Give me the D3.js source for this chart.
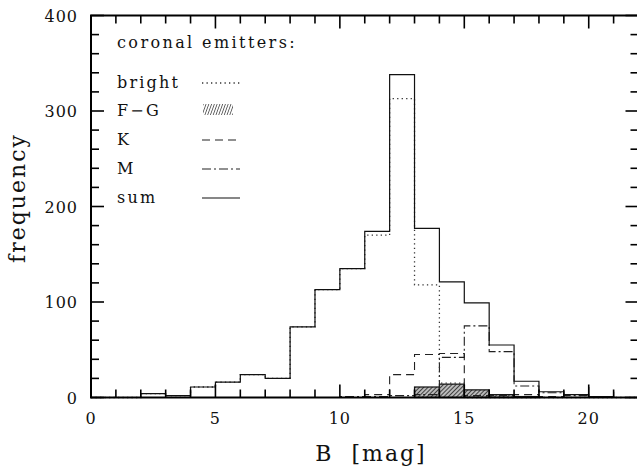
<!DOCTYPE html>
<html><head><meta charset="utf-8">
<script src="https://cdn.jsdelivr.net/npm/d3@7"></script>
<style>
html,body{margin:0;padding:0;background:#fff;}
text{font-family:"DejaVu Serif",serif;fill:#111;}
</style></head>
<body><svg id="c" width="637" height="474"></svg>
<script>
// ---- data (bins of 1 mag, left edges) ----
const binStarts = [0,1,2,3,4,5,6,7,8,9,10,11,12,13,14,15,16,17,18,19,20,21];
const sumVals    = [0,0,4,2,11,16,24,20,74,113,135,174,338,177,121,99,55,17,6,3,1,0];
const brightVals = [0,0,4,2,11,16,24,20,74,113,135,170,313,118,15,0,0,0,0,0,0,0];
const fgVals     = [0,0,0,0,0,0,0,0,0,0,0,0,0,11,14,8,3,1,0,0,0,0];
const kVals      = [0,0,0,0,0,0,0,0,0,0,0,3,24,45,46,2,2,3,1,0,0,0];
const mVals      = [0,0,0,0,0,0,0,0,0,0,1,1,2,3,42,75,48,12,5,2,0,0];
const sumEdgeSpikes = [{x:20, v:11}, {x:21, v:6}];
const xTickLabels = [0,5,10,15,20];
const yTickLabels = [0,100,200,300,400];
const legendTitle = "coronal emitters:";
const legendNames = ["bright","F\u2212G","K","M","sum"];

const svg = d3.select("#c");
const L=91, R=638.5, T=15.5, B=397.5;
const x = d3.scaleLinear().domain([0,22]).range([L,R]);
const y = d3.scaleLinear().domain([0,400]).range([B,T]);

// hatch patterns
const defs = svg.append("defs");
const pat = defs.append("pattern").attr("id","hatch").attr("patternUnits","userSpaceOnUse")
  .attr("width",3).attr("height",3).attr("patternTransform","rotate(45)");
pat.append("rect").attr("width",3).attr("height",3).attr("fill","#bbb");
pat.append("line").attr("x1",0).attr("y1",0).attr("x2",0).attr("y2",3)
  .attr("stroke","#222").attr("stroke-width",1.6);
const pat2 = defs.append("pattern").attr("id","hatchLeg").attr("patternUnits","userSpaceOnUse")
  .attr("width",2.6).attr("height",4).attr("patternTransform","rotate(20)");
pat2.append("line").attr("x1",0).attr("y1",0).attr("x2",0).attr("y2",4)
  .attr("stroke","#111").attr("stroke-width",1.2);

function stepPath(vals){
  const pts=[[x(binStarts[0]),y(0)]];
  vals.forEach((v,i)=>{pts.push([x(binStarts[i]),y(v)]);pts.push([x(binStarts[i]+1),y(v)]);});
  pts.push([x(binStarts[binStarts.length-1]+1),y(0)]);
  return d3.line()(pts);
}

// F-G hatched bars
const fgData = binStarts.map((b,i)=>({b,v:fgVals[i]})).filter(d=>d.v>0);
svg.append("g").selectAll("rect").data(fgData).join("rect")
  .attr("x",d=>x(d.b)).attr("width",d=>x(d.b+1)-x(d.b))
  .attr("y",d=>y(d.v)).attr("height",d=>y(0)-y(d.v))
  .attr("fill","url(#hatch)").attr("stroke","#111").attr("stroke-width",1.2);

const styles = {
  m:{vals:mVals,dash:"9,3,2,3",w:1.1,c:"#222"},
  k:{vals:kVals,dash:"8,5",w:1.1,c:"#222"},
  bright:{vals:brightVals,dash:"1.3,3.2",w:1.3,c:"#333"},
  sum:{vals:sumVals,dash:null,w:1.2,c:"#111"}
};
["m","k","bright","sum"].forEach(k=>{
  const s=styles[k];
  svg.append("path").attr("d",stepPath(s.vals)).attr("fill","none")
    .attr("stroke",s.c).attr("stroke-width",s.w)
    .attr("stroke-dasharray",s.dash);
});
svg.append("g").selectAll("line").data(sumEdgeSpikes).join("line")
  .attr("x1",d=>x(d.x)).attr("x2",d=>x(d.x)).attr("y1",y(0)).attr("y2",d=>y(d.v))
  .attr("stroke","#111").attr("stroke-width",1.2);

// frame
svg.append("rect").attr("x",L).attr("y",T).attr("width",R-L).attr("height",B-T)
  .attr("fill","none").attr("stroke","#000").attr("stroke-width",2);

// ticks (inward, all four sides)
const tg = svg.append("g").attr("stroke","#000").attr("stroke-width",1.6);
d3.range(0,23,1).forEach(v=>{
  const len = v%5===0?13:8;
  tg.append("line").attr("x1",x(v)).attr("x2",x(v)).attr("y1",B).attr("y2",B-len);
  tg.append("line").attr("x1",x(v)).attr("x2",x(v)).attr("y1",T).attr("y2",T+len);
});
d3.range(0,401,20).forEach(v=>{
  const len = v%100===0?13:8;
  tg.append("line").attr("y1",y(v)).attr("y2",y(v)).attr("x1",L).attr("x2",L+len);
  tg.append("line").attr("y1",y(v)).attr("y2",y(v)).attr("x1",R).attr("x2",R-len);
});

// tick labels
svg.append("g").selectAll("text").data(xTickLabels).join("text")
  .attr("x",d=>x(d)).attr("y",424).attr("text-anchor","middle")
  .attr("font-size",16).attr("letter-spacing",1).text(d=>d);
svg.append("g").selectAll("text").data(yTickLabels).join("text")
  .attr("x",78).attr("y",d=>y(d)+6).attr("text-anchor","end")
  .attr("font-size",16).attr("letter-spacing",1).text(d=>d);

// axis titles
svg.append("text").attr("x",371).attr("y",461).attr("text-anchor","middle")
  .attr("font-size",22).attr("letter-spacing",2).attr("xml:space","preserve").text("B  [mag]");
svg.append("text").attr("transform","translate(25,198) rotate(-90)").attr("text-anchor","middle")
  .attr("font-size",22).attr("letter-spacing",2).text("frequency");

// legend
const lg = svg.append("g");
lg.append("text").attr("x",117).attr("y",48).attr("font-size",16).attr("letter-spacing",2.4)
  .text(legendTitle);
const rows=[83,111,140,169,198];
legendNames.forEach((n,i)=>{
  lg.append("text").attr("x",117).attr("y",rows[i]+5).attr("font-size",16).attr("letter-spacing",2.2).text(n);
});
const lx0=202, lx1=240;
lg.append("line").attr("x1",lx0).attr("x2",lx1).attr("y1",rows[0]).attr("y2",rows[0])
  .attr("stroke","#333").attr("stroke-width",1.3).attr("stroke-dasharray",styles.bright.dash);
lg.append("rect").attr("x",203).attr("y",rows[1]-7).attr("width",30).attr("height",11)
  .attr("fill","url(#hatchLeg)");
lg.append("line").attr("x1",lx0).attr("x2",lx1).attr("y1",rows[2]).attr("y2",rows[2])
  .attr("stroke","#222").attr("stroke-width",1.1).attr("stroke-dasharray",styles.k.dash);
lg.append("line").attr("x1",lx0).attr("x2",lx1).attr("y1",rows[3]).attr("y2",rows[3])
  .attr("stroke","#222").attr("stroke-width",1.1).attr("stroke-dasharray",styles.m.dash);
lg.append("line").attr("x1",lx0).attr("x2",lx1).attr("y1",rows[4]).attr("y2",rows[4])
  .attr("stroke","#111").attr("stroke-width",1.2);
</script></body></html>
